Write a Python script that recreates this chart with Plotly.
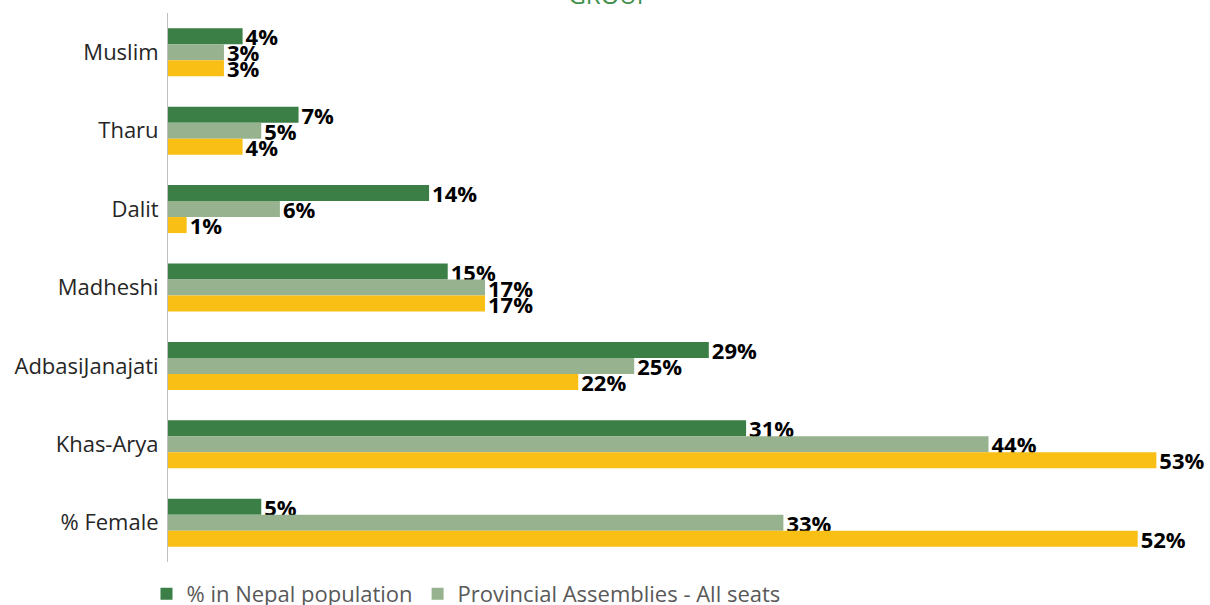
import plotly.graph_objects as go

categories = ["Muslim", "Tharu", "Dalit", "Madheshi", "AdbasiJanajati", "Khas-Arya", "% Female"]
population = [4, 7, 14, 15, 29, 31, 5]
assemblies_all = [3, 5, 6, 17, 25, 44, 33]
assemblies_other = [3, 4, 1, 17, 22, 53, 52]

series_names = ["% in Nepal population", "Provincial Assemblies - All seats", "Provincial Assemblies - PR seats"]
series_colors = ["#3b7f46", "#97b28f", "#f9bf14"]
series_values = [population, assemblies_all, assemblies_other]
show_in_legend = [True, True, False]

fig = go.Figure()
for name, color, vals, sl in zip(series_names, series_colors, series_values, show_in_legend):
    fig.add_trace(go.Bar(
        y=categories, x=vals, name=name, orientation="h",
        marker=dict(color=color, line=dict(width=0)),
        text=[f"{v}%" for v in vals], textposition="outside",
        textfont=dict(family="Open Sans", size=22, color="#000000", weight="bold"),
        constraintext="none", cliponaxis=False, showlegend=sl,
    ))

fig.update_layout(
    width=1210, height=605,
    margin=dict(l=168, r=35, t=13, b=43),
    paper_bgcolor="white", plot_bgcolor="white",
    barmode="group", bargap=0.388, bargroupgap=0,
    title=dict(text="GROUP", x=0.504, xref="container", xanchor="center",
               y=0.993, yref="container", yanchor="bottom",
               font=dict(family="Open Sans", size=24, color="#3f8f4a")),
    xaxis=dict(range=[0, 54], showgrid=False, showticklabels=False, zeroline=False,
               showline=False, ticks=""),
    yaxis=dict(autorange="reversed", showgrid=False, showline=True, linecolor="#bfbfbf",
               linewidth=1, ticks="", ticklen=0, ticklabelstandoff=4,
               tickfont=dict(family="Open Sans", size=22, color="#262626")),
    legend=dict(orientation="h", x=146.5 / 1210, xref="container", xanchor="left",
                y=1 - 573 / 605, yref="container", yanchor="top",
                font=dict(family="Open Sans", size=22, color="#595959"),
                itemwidth=30, tracegroupgap=0),
    font=dict(family="Open Sans"),
)

fig.write_html("out.html")
